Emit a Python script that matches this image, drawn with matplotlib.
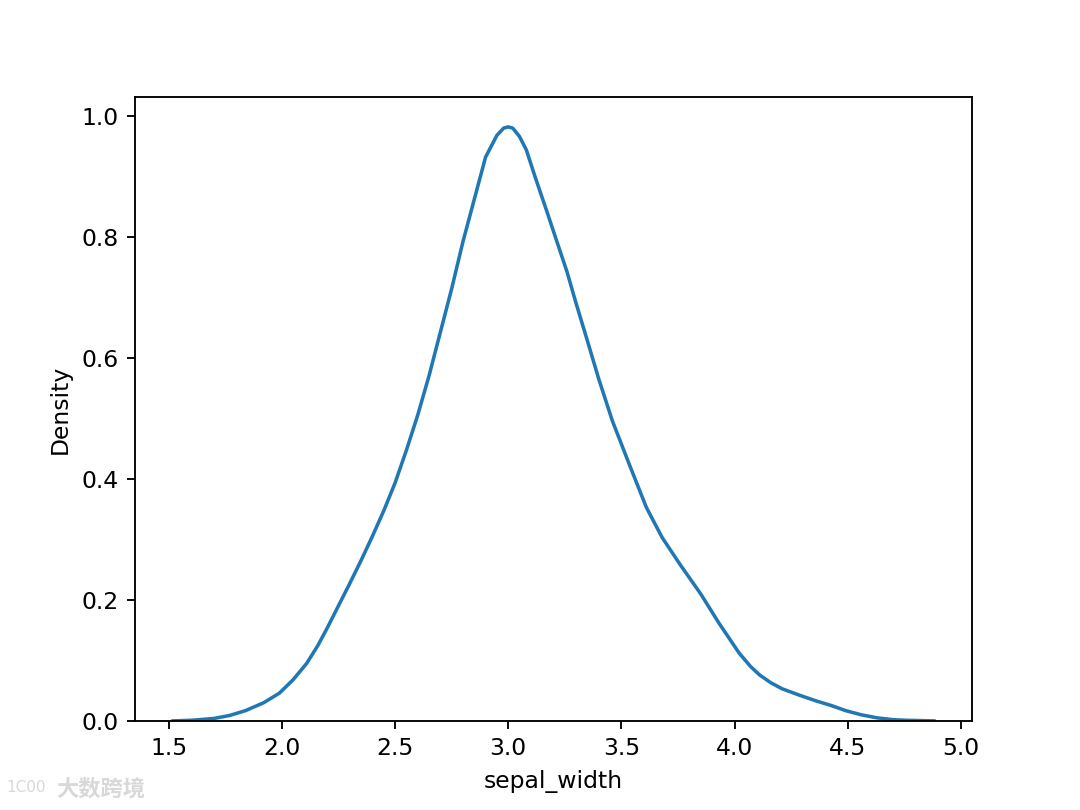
import matplotlib
matplotlib.use("Agg")
import matplotlib.pyplot as plt

# KDE curve of sepal_width
sepal_width = [1.52, 1.60, 1.70, 1.77, 1.84, 1.92, 1.99, 2.05, 2.11, 2.16,
               2.20, 2.25, 2.30, 2.35, 2.40, 2.45, 2.50, 2.55, 2.60, 2.65,
               2.70, 2.75, 2.80, 2.85, 2.90, 2.95, 2.98, 3.00, 3.02, 3.05,
               3.08, 3.12, 3.17, 3.21, 3.26, 3.30, 3.35, 3.40, 3.46, 3.54,
               3.61, 3.68, 3.76, 3.85, 3.93, 4.02, 4.07, 4.11, 4.16, 4.21,
               4.29, 4.36, 4.43, 4.49, 4.56, 4.63, 4.70, 4.76, 4.88]
density = [0.000, 0.001, 0.004, 0.009, 0.017, 0.030, 0.046, 0.068, 0.095, 0.125,
           0.153, 0.190, 0.227, 0.265, 0.305, 0.347, 0.393, 0.447, 0.505, 0.570,
           0.642, 0.714, 0.792, 0.862, 0.932, 0.968, 0.980, 0.982, 0.980, 0.966,
           0.944, 0.898, 0.843, 0.798, 0.742, 0.690, 0.628, 0.565, 0.496, 0.419,
           0.353, 0.303, 0.258, 0.210, 0.162, 0.112, 0.090, 0.076, 0.063, 0.053,
           0.042, 0.033, 0.025, 0.017, 0.010, 0.005, 0.002, 0.001, 0.000]

fig, ax = plt.subplots(figsize=(6.4, 4.8), dpi=168.75)

line, = ax.plot(sepal_width, density, color="#1f77b4", linewidth=1.5)
line.sticky_edges.y.append(0)

ax.set_xlabel("sepal_width")
ax.set_ylabel("Density")

# watermark, bottom left
fig.text(0.052, 0.018, "大数跨境", fontsize=9.5, color="#d8d8d8",
         family=["Noto Sans CJK SC", "DejaVu Sans"], fontweight="bold")
fig.text(0.006, 0.022, "1C00", fontsize=6.5, color="#d8d8d8")

fig.savefig("out.png", dpi=168.75)
